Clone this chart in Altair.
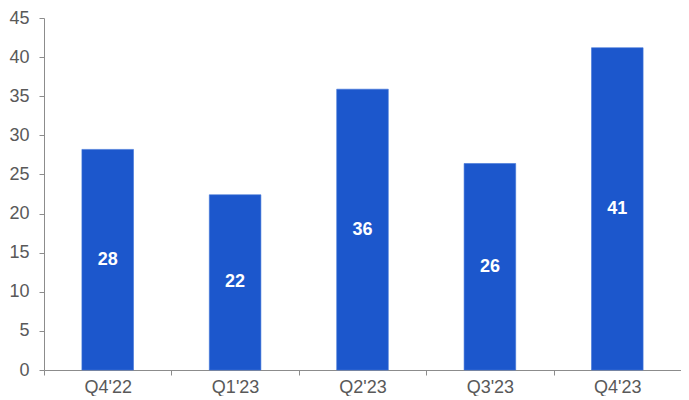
import altair as alt
import pandas as pd

quarters = ["Q4'22", "Q1'23", "Q2'23", "Q3'23", "Q4'23"]
values = [28.2, 22.4, 35.9, 26.4, 41.2]

df = pd.DataFrame({"quarter": quarters, "value": values})

FONT = "Liberation Sans"
BLUE = "#1c57cc"

x_axis = alt.Axis(
    labelAngle=0,
    tickBand="extent",
    domainColor="#8c8c8c",
    tickColor="#8c8c8c",
    tickSize=5,
    labelColor="#595959",
    labelFontSize=18,
    labelFont=FONT,
    labelPadding=3,
    grid=False,
)
x_scale = alt.Scale(paddingInner=0, paddingOuter=0)

y_axis = alt.Axis(
    values=list(range(0, 46, 5)),
    grid=False,
    labelOverlap=False,
    domainColor="#8c8c8c",
    tickColor="#8c8c8c",
    tickSize=5,
    labelColor="#595959",
    labelFontSize=18,
    labelFont=FONT,
    labelPadding=10,
)
y_scale = alt.Scale(domain=[0, 45], nice=False)

bars = alt.Chart(df).mark_bar(
    color=BLUE, width=alt.RelativeBandSize(0.405), stroke="#3f73d8", strokeWidth=0.6
).encode(
    x=alt.X("quarter:N", sort=quarters, title=None, scale=x_scale, axis=x_axis),
    y=alt.Y("value:Q", title=None, scale=y_scale, axis=y_axis),
)

labels = alt.Chart(df).transform_calculate(
    mid="datum.value / 2"
).mark_text(
    color="white", fontWeight="bold", fontSize=18, font=FONT, baseline="middle"
).encode(
    x=alt.X("quarter:N", sort=quarters, title=None, scale=x_scale, axis=x_axis),
    y=alt.Y("mid:Q", title=None, scale=y_scale, axis=y_axis),
    text=alt.Text("value:Q", format=".0f"),
)

chart = (
    alt.layer(bars, labels)
    .properties(
        width=637,
        height=352,
        autosize=alt.AutoSizeParams(type="none"),
        padding={"left": 36, "top": 10, "right": 0, "bottom": 26},
    )
    .configure_view(stroke=None)
)

chart.save("out.html", embed_options={"renderer": "svg", "actions": False})
